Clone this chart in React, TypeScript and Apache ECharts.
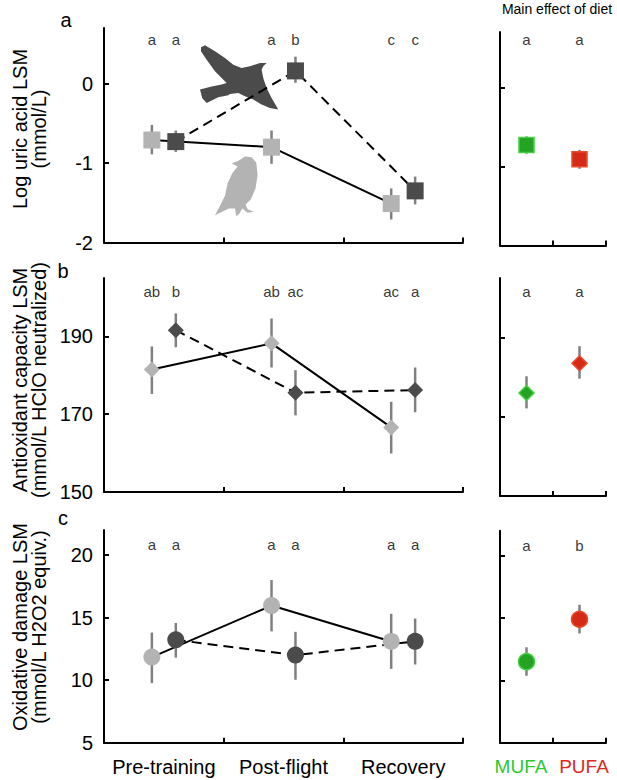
import React, { useEffect, useRef } from "react";
import * as echarts from "echarts";

// ---------- data ----------
const periods = ["Pre-training", "Post-flight", "Recovery"];
const diets = ["MUFA", "PUFA"];
const periodX = [0.5, 1.5, 2.5];
const dietX = [0.5, 1.5];
const groupOffset = 0.1; // light group left, dark group right

// uric acid (log mmol/L)
const uricLight = [-0.71, -0.8, -1.51];
const uricLightLo = [-0.89, -1.01, -1.71];
const uricLightHi = [-0.52, -0.59, -1.32];
const uricDark = [-0.73, 0.16, -1.35];
const uricDarkLo = [-0.86, 0.01, -1.52];
const uricDarkHi = [-0.59, 0.34, -1.17];
const uricLettersLight = ["a", "a", "c"];
const uricLettersDark = ["a", "b", "c"];
const uricDiet = [-0.73, -0.91];
const uricDietLo = [-0.84, -1.03];
const uricDietHi = [-0.62, -0.79];
const uricDietLetters = ["a", "a"];

// antioxidant capacity
const antiLight = [181.5, 188.2, 166.6];
const antiLightLo = [175.2, 182.0, 159.9];
const antiLightHi = [187.4, 194.6, 173.2];
const antiDark = [191.6, 175.5, 176.2];
const antiDarkLo = [187.2, 169.7, 170.5];
const antiDarkHi = [195.9, 181.3, 182.0];
const antiLettersLight = ["ab", "ab", "ac"];
const antiLettersDark = ["b", "ac", "a"];
const antiDiet = [176.0, 183.5];
const antiDietLo = [172.1, 179.6];
const antiDietHi = [180.2, 187.8];
const antiDietLetters = ["a", "a"];

// oxidative damage
const oxLight = [11.84, 15.96, 13.09];
const oxLightLo = [9.76, 13.9, 10.9];
const oxLightHi = [13.8, 18.0, 15.3];
const oxDark = [13.22, 12.0, 13.1];
const oxDarkLo = [11.8, 10.03, 11.25];
const oxDarkHi = [14.57, 13.86, 14.92];
const oxLettersLight = ["a", "a", "a"];
const oxLettersDark = ["a", "a", "a"];
const oxDiet = [11.5, 14.9];
const oxDietLo = [10.37, 13.76];
const oxDietHi = [12.65, 16.06];
const oxDietLetters = ["a", "b"];

// axes
const uricRange = [-2, 0.7];
const uricTicks = [-2, -1, 0];
const antiRange = [150, 205];
const antiTicks = [150, 170, 190];
const oxRange = [5, 22];
const oxTicks = [5, 10, 15, 20];
const letterY = [0.56, 201.5, 20.85];
const dietLetterY = [0.6, 201.7, 20.8];

const FONT = "Liberation Sans, Arial, Helvetica, sans-serif";
const LIGHT = "#b3b3b3";
const DARK = "#4b4b4b";
const ERR = "#808080";
const GREEN = "#22a322";
const GREEN_B = "#45cf45";
const RED = "#d52b16";
const RED_B = "#ec4a30";

const FLY_BIRD =
  "M18 22 L30 16 L60 34 L90 54 L115 74 L140 84 L165 79 L195 69 L215 69 L205 79 L200 89 L205 114 L215 144 L230 174 L250 209 L225 204 L200 194 L175 179 L150 169 L130 159 L105 162 L100 166 L70 172 L35 189 L22 175 L15 149 L50 140 L80 134 L95 129 L60 94 L35 59 L18 34 Z";
const STAND_BIRD =
  "M110 371 L132 362 L150 350 L170 352 L184 368 L188 405 L182 445 L168 478 L152 494 L158 508 L176 516 L158 519 L142 506 L134 520 L124 530 L120 506 L102 506 L82 516 L60 526 L74 500 L90 468 L98 430 L112 400 L128 380 Z";

let registered = false;
function registerShapes() {
  if (registered) return;
  echarts.graphic.registerShape("flyBird", echarts.graphic.extendPath(FLY_BIRD, {}));
  echarts.graphic.registerShape("standBird", echarts.graphic.extendPath(STAND_BIRD, {}));
  registered = true;
}

const grids = [
  { left: 104, top: 28, width: 359, height: 214.5 },
  { left: 104, top: 278, width: 359, height: 214 },
  { left: 104, top: 530, width: 359, height: 212.7 },
  { left: 500, top: 32, width: 106, height: 213.5 },
  { left: 500, top: 278, width: 106, height: 218 },
  { left: 500, top: 530.7, width: 106, height: 212 },
];

const axisLine = { show: true, onZero: false, lineStyle: { color: "#000", width: 2 } };
const tickStyle = (vals: number[]) => ({
  show: true,
  inside: true,
  length: 5,
  lineStyle: { color: "#000", width: 2 },
  customValues: vals,
});

function errorSeries(gi: number, xs: number[], lo: number[], hi: number[]) {
  return {
    type: "custom",
    xAxisIndex: gi,
    yAxisIndex: gi,
    z: 3,
    silent: true,
    encode: { x: 0, y: [1, 2] },
    data: xs.map((x, i) => [x, lo[i], hi[i]]),
    renderItem: (params: any, api: any) => {
      const x = api.value(0);
      const p1 = api.coord([x, api.value(1)]);
      const p2 = api.coord([x, api.value(2)]);
      return {
        type: "line",
        shape: { x1: p1[0], y1: p1[1], x2: p2[0], y2: p2[1] },
        style: { stroke: ERR, lineWidth: 2.5 },
      };
    },
  };
}

function lineSeries(gi: number, xs: number[], ys: number[], dashed: boolean) {
  return {
    type: "line",
    xAxisIndex: gi,
    yAxisIndex: gi,
    z: 2,
    symbol: "none",
    silent: true,
    lineStyle: { color: "#000", width: 2, type: dashed ? [10, 6] : "solid" },
    data: xs.map((x, i) => [x, ys[i]]),
  };
}

function markerSeries(
  gi: number,
  xs: number[],
  ys: number[],
  symbol: string,
  size: number,
  colors: string[],
  borders: string[] | null
) {
  return {
    type: "scatter",
    xAxisIndex: gi,
    yAxisIndex: gi,
    z: 4,
    symbol,
    symbolSize: size,
    silent: true,
    data: xs.map((x, i) => ({
      value: [x, ys[i]],
      itemStyle: {
        opacity: 1,
        color: colors[i % colors.length],
        borderColor: borders ? borders[i % borders.length] : colors[i % colors.length],
        borderWidth: borders ? 1.5 : 0,
      },
    })),
  };
}

function letterSeries(gi: number, xs: number[], y: number, letters: string[]) {
  return {
    type: "scatter",
    xAxisIndex: gi,
    yAxisIndex: gi,
    z: 5,
    symbolSize: 0.1,
    itemStyle: { color: "transparent" },
    silent: true,
    label: {
      show: true,
      position: "inside",
      formatter: "{b}",
      fontSize: 15,
      fontFamily: FONT,
      color: "#000",
    },
    data: xs.map((x, i) => ({ name: letters[i], value: [x, y] })),
  };
}

export default function App() {
  const ref = useRef<HTMLDivElement>(null);
  useEffect(() => {
    if (!ref.current) return;
    registerShapes();
    const chart = echarts.init(ref.current, null, { renderer: "svg" });

    const xl = periodX.map((c) => c - groupOffset);
    const xd = periodX.map((c) => c + groupOffset);

    const xAxes: any[] = [];
    const yAxes: any[] = [];
    const ranges = [uricRange, antiRange, oxRange];
    const ticks = [uricTicks, antiTicks, oxTicks];
    for (let gi = 0; gi < 6; gi++) {
      const left = gi < 3;
      const row = gi % 3;
      const xMax = left ? 3 : 2;
      const bottomRow = row === 2;
      xAxes.push({
        type: "value",
        gridIndex: gi,
        min: 0,
        max: xMax,
        axisLine,
        axisTick: tickStyle(left ? [1, 2, 3] : [1, 2]),
        splitLine: { show: false },
        axisLabel: {
          show: bottomRow,
          customValues: left ? periodX : dietX,
          margin: 14,
          fontSize: 20,
          fontFamily: FONT,
          color: "#000",
          formatter: (v: number) => {
            if (left) return periods[Math.floor(v)];
            const i = Math.floor(v);
            return i === 0 ? "{m|" + diets[0] + "}" : "{p|" + diets[1] + "}";
          },
          rich: left
            ? undefined
            : {
                m: { color: "#2ec82e", fontSize: 19, fontFamily: FONT, padding: [0, 11, 0, 0] },
                p: { color: "#e0281a", fontSize: 19, fontFamily: FONT, padding: [0, 0, 0, 9] },
              },
        },
      });
      yAxes.push({
        type: "value",
        gridIndex: gi,
        min: ranges[row][0],
        max: ranges[row][1],
        axisLine,
        axisTick: tickStyle(left ? ticks[row] : ticks[row].slice(1)),
        splitLine: { show: false },
        axisLabel: {
          show: left,
          customValues: ticks[row],
          margin: 11,
          fontSize: 20,
          fontFamily: FONT,
          color: "#000",
        },
      });
    }

    const series: any[] = [
      // panel a
      lineSeries(0, xl, uricLight, false),
      lineSeries(0, xd, uricDark, true),
      errorSeries(0, xl, uricLightLo, uricLightHi),
      errorSeries(0, xd, uricDarkLo, uricDarkHi),
      markerSeries(0, xl, uricLight, "rect", 17, [LIGHT], null),
      markerSeries(0, xd, uricDark, "rect", 17, [DARK], null),
      letterSeries(0, xl, letterY[0], uricLettersLight),
      letterSeries(0, xd, letterY[0], uricLettersDark),
      // panel b
      lineSeries(1, xl, antiLight, false),
      lineSeries(1, xd, antiDark, true),
      errorSeries(1, xl, antiLightLo, antiLightHi),
      errorSeries(1, xd, antiDarkLo, antiDarkHi),
      markerSeries(1, xl, antiLight, "diamond", 16, [LIGHT], null),
      markerSeries(1, xd, antiDark, "diamond", 16, [DARK], null),
      letterSeries(1, xl, letterY[1], antiLettersLight),
      letterSeries(1, xd, letterY[1], antiLettersDark),
      // panel c
      lineSeries(2, xl, oxLight, false),
      lineSeries(2, xd, oxDark, true),
      errorSeries(2, xl, oxLightLo, oxLightHi),
      errorSeries(2, xd, oxDarkLo, oxDarkHi),
      markerSeries(2, xl, oxLight, "circle", 17, [LIGHT], null),
      markerSeries(2, xd, oxDark, "circle", 17, [DARK], null),
      letterSeries(2, xl, letterY[2], oxLettersLight),
      letterSeries(2, xd, letterY[2], oxLettersDark),
      // diet panels
      errorSeries(3, dietX, uricDietLo, uricDietHi),
      markerSeries(3, dietX, uricDiet, "rect", 15, [GREEN, RED], [GREEN_B, RED_B]),
      letterSeries(3, dietX, dietLetterY[0], uricDietLetters),
      errorSeries(4, dietX, antiDietLo, antiDietHi),
      markerSeries(4, dietX, antiDiet, "diamond", 15, [GREEN, RED], [GREEN_B, RED_B]),
      letterSeries(4, dietX, dietLetterY[1], antiDietLetters),
      errorSeries(5, dietX, oxDietLo, oxDietHi),
      markerSeries(5, dietX, oxDiet, "circle", 16, [GREEN, RED], [GREEN_B, RED_B]),
      letterSeries(5, dietX, dietLetterY[2], oxDietLetters),
    ];

    const yTitle = (x: number, y: number, text: string) => ({
      type: "text",
      x,
      y,
      rotation: Math.PI / 2,
      z: 10,
      style: {
        text,
        fontSize: 20,
        fontFamily: FONT,
        fill: "#000",
        align: "center",
        verticalAlign: "middle",
      },
    });
    const label = (x: number, y: number, text: string, size: number) => ({
      type: "text",
      x,
      y,
      z: 10,
      style: {
        text,
        fontSize: size,
        fontFamily: FONT,
        fill: "#000",
        align: "center",
        verticalAlign: "middle",
      },
    });

    chart.setOption({
      animation: false,
      backgroundColor: "#fff",
      grid: grids,
      xAxis: xAxes,
      yAxis: yAxes,
      series,
      graphic: [
        { type: "flyBird", x: 195, y: 40, scaleX: 1 / 3, scaleY: 1 / 3, z: 0, silent: true, style: { fill: DARK } },
        { type: "standBird", x: 195, y: 40, scaleX: 1 / 3, scaleY: 1 / 3, z: 0, silent: true, style: { fill: LIGHT } },
        label(66, 20, "a", 20),
        label(63, 271, "b", 20),
        label(63, 518, "c", 20),
        label(557, 8.5, "Main effect of diet", 14),
        yTitle(20, 129, "Log uric acid LSM"),
        yTitle(39, 129, "(mmol/L)"),
        yTitle(20, 380, "Antioxidant capacity LSM"),
        yTitle(39, 380, "(mmol/L HClO neutralized)"),
        yTitle(20, 627, "Oxidative damage LSM"),
        yTitle(39, 627, "(mmol/L H2O2 equiv.)"),
      ],
    });
    return () => chart.dispose();
  }, []);
  return (
    <div
      ref={ref}
      style={{ position: "absolute", left: 0, top: 0, width: 617, height: 780, background: "#fff" }}
    />
  );
}
